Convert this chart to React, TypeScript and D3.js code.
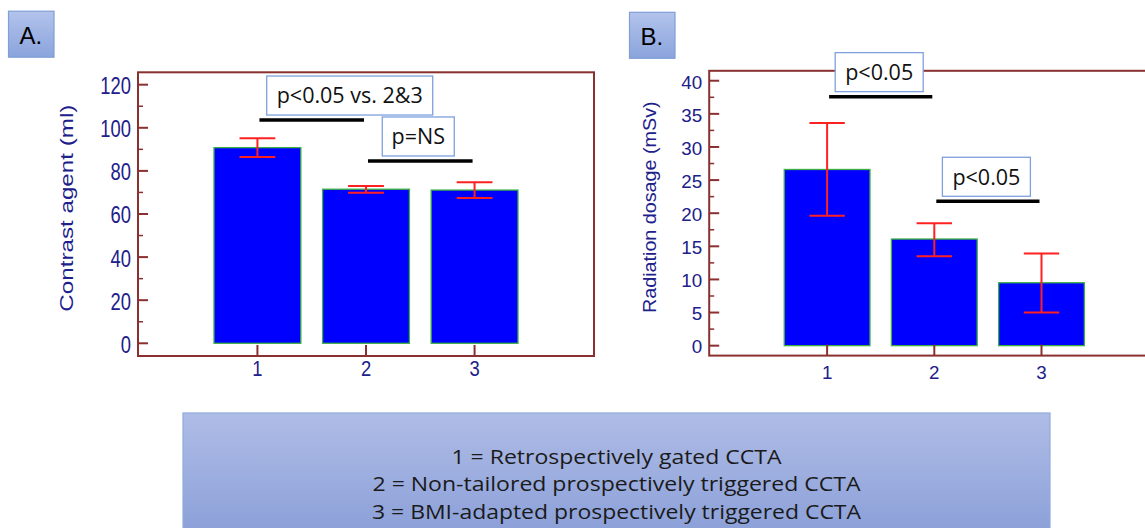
import React from 'react';
import * as d3 from 'd3';

// ---------- data ----------
const categories = [1, 2, 3];
const contrastMean = [90.8, 71.5, 71.1];
const contrastLow = [86.4, 69.9, 67.4];
const contrastHigh = [95.1, 73.0, 74.7];
const contrastMajorTicks = [0, 20, 40, 60, 80, 100, 120];
const contrastMinorTicks = [10, 30, 50, 70, 90, 110];

const radiationMean = [26.6, 16.1, 9.5];
const radiationLow = [19.6, 13.5, 5.0];
const radiationHigh = [33.6, 18.5, 13.9];
const radiationMajorTicks = [0, 5, 10, 15, 20, 25, 30, 35, 40];
const radiationMinorTicks = [2.5, 7.5, 12.5, 17.5, 22.5, 27.5, 32.5, 37.5];

const contrastSigFrom = [1, 2];
const contrastSigTo = [2, 3];
const contrastSigLevel = [103.6, 84.6];
const contrastSigLabel = ['p<0.05 vs. 2&3', 'p=NS'];

const radiationSigFrom = [1, 2];
const radiationSigTo = [2, 3];
const radiationSigLevel = [37.6, 21.8];
const radiationSigLabel = ['p<0.05', 'p<0.05'];

const legendLines = [
  '1 = Retrospectively gated CCTA',
  '2 = Non-tailored prospectively triggered CCTA',
  '3 = BMI-adapted prospectively triggered CCTA',
];

// ---------- styles ----------
const FRAME = '#8b3030';
const NAVY = '#20208a';
const BAR = '#0000ff';
const BAR_EDGE = '#3cb043';
const ERR = '#ff2020';
const TICK_FONT = 'Arial, "Liberation Sans", Roboto, sans-serif';
const BOX_FONT = '"Open Sans", "Noto Sans", sans-serif';

type PanelProps = {
  xRange: [number, number];
  yRange: [number, number];
  yDomain: [number, number];
  mean: number[];
  low: number[];
  high: number[];
  major: number[];
  minor: number[];
  sigFrom: number[];
  sigTo: number[];
  sigLevel: number[];
  sigLabel: string[];
  boxW: number[];
  boxDx: number[];
  title: string;
  titleX: number;
  titleLen: number;
  titleSize: number;
  fontSize: number;
  stretch: number;
  xLabelBaseline: number;
  xLabelStretch: number;
};

function Panel(p: PanelProps) {
  const x = d3.scaleLinear().domain([-0.1, 4.1]).range(p.xRange);
  const y = d3.scaleLinear().domain(p.yDomain).range(p.yRange);
  const step = x(2) - x(1);
  const bw = step * 0.8;
  const cap = step * 0.33;
  const [x0, x1] = p.xRange;
  const [yb, yt] = p.yRange;
  const titleY = (yb + yt) / 2 - 6;
  return (
    <g>
      {categories.map((c, i) => (
        <rect
          key={'b' + i}
          x={x(c) - bw / 2}
          y={y(p.mean[i])}
          width={bw}
          height={y(0) - y(p.mean[i])}
          fill={BAR}
          stroke={BAR_EDGE}
          strokeWidth={1.3}
        />
      ))}
      {categories.map((c, i) => (
        <g key={'e' + i} stroke={ERR} strokeWidth={2}>
          <line x1={x(c)} x2={x(c)} y1={y(p.high[i])} y2={y(p.low[i])} />
          <line x1={x(c) - cap / 2} x2={x(c) + cap / 2} y1={y(p.high[i])} y2={y(p.high[i])} />
          <line x1={x(c) - cap / 2} x2={x(c) + cap / 2} y1={y(p.low[i])} y2={y(p.low[i])} />
        </g>
      ))}
      <rect x={x0} y={yt} width={x1 - x0} height={yb - yt} fill="none" stroke={FRAME} strokeWidth={2} />
      {p.major.map((t) => (
        <line key={'M' + t} x1={x0} x2={x0 + 10} y1={y(t)} y2={y(t)} stroke={FRAME} strokeWidth={2} />
      ))}
      {p.minor.map((t) => (
        <line key={'m' + t} x1={x0} x2={x0 + 5} y1={y(t)} y2={y(t)} stroke={FRAME} strokeWidth={1.5} />
      ))}
      {p.major.map((t) => (
        <text
          key={'L' + t}
          transform={`translate(${x0 - 7},${y(t) + 1}) scale(1,${p.stretch})`}
          textAnchor="end"
          dy="0.36em"
          fontSize={p.fontSize}
          fontFamily={TICK_FONT}
          fill={NAVY}
        >
          {t}
        </text>
      ))}
      {categories.map((c) => (
        <g key={'x' + c}>
          <line x1={x(c)} x2={x(c)} y1={yb} y2={yb - 11} stroke={FRAME} strokeWidth={2} />
          <text
            transform={`translate(${x(c)},${p.xLabelBaseline}) scale(1,${p.xLabelStretch})`}
            textAnchor="middle"
            fontSize={p.fontSize}
            fontFamily={TICK_FONT}
            fill={NAVY}
          >
            {c}
          </text>
        </g>
      ))}
      <text
        transform={`translate(${p.titleX},${titleY}) rotate(-90)`}
        textAnchor="middle"
        fontSize={p.titleSize}
        fontFamily={TICK_FONT}
        fill={NAVY}
        textLength={p.titleLen}
        lengthAdjust="spacingAndGlyphs"
      >
        {p.title}
      </text>
      {p.sigFrom.map((f, i) => {
        const lx1 = x(f) + 2;
        const lx2 = x(p.sigTo[i]) - 2;
        const ly = y(p.sigLevel[i]);
        const cx = (lx1 + lx2) / 2 + p.boxDx[i];
        const bh = 39;
        const by = ly - 5 - bh;
        return (
          <g key={'s' + i}>
            <line x1={lx1} x2={lx2} y1={ly} y2={ly} stroke="#000" strokeWidth={3.5} />
            <rect x={cx - p.boxW[i] / 2} y={by} width={p.boxW[i]} height={bh} fill="#fff" stroke="#7fa0dc" strokeWidth={1.3} />
            <text x={cx} y={by + bh / 2} dy="0.36em" textAnchor="middle" fontSize={21.5} fontFamily={BOX_FONT} fill="#111">
              {p.sigLabel[i]}
            </text>
          </g>
        );
      })}
    </g>
  );
}

function PanelLabel({ x, y, label }: { x: number; y: number; label: string }) {
  return (
    <g>
      <rect x={x} y={y} width={45.5} height={46} fill="url(#lblGrad)" stroke="#7f9fd6" strokeWidth={1.2} />
      <text x={x + 11} y={y + 32.5} fontSize={24} fontFamily={TICK_FONT} fill="#000">
        {label}
      </text>
    </g>
  );
}

export default function App() {
  return (
    <svg
      width={1145}
      height={528}
      viewBox="0 0 1145 528"
      style={{ position: 'absolute', left: 0, top: 0, display: 'block', background: '#fff' }}
    >
      <defs>
        <linearGradient id="lblGrad" x1="0" y1="0" x2="0" y2="1">
          <stop offset="0" stopColor="#b3c3ec" />
          <stop offset="1" stopColor="#8aa4dc" />
        </linearGradient>
        <linearGradient id="legGrad" x1="0" y1="0" x2="0" y2="1">
          <stop offset="0" stopColor="#afbce6" />
          <stop offset="1" stopColor="#8a9fd8" />
        </linearGradient>
      </defs>
      <rect x={0} y={0} width={1145} height={528} fill="#fff" />

      <PanelLabel x={8.5} y={11.2} label="A." />
      <PanelLabel x={629.5} y={12.3} label="B." />

      <Panel
        xRange={[138, 594]}
        yRange={[356, 72.3]}
        yDomain={[-5.9, 125.75]}
        mean={contrastMean}
        low={contrastLow}
        high={contrastHigh}
        major={contrastMajorTicks}
        minor={contrastMinorTicks}
        sigFrom={contrastSigFrom}
        sigTo={contrastSigTo}
        sigLevel={contrastSigLevel}
        sigLabel={contrastSigLabel}
        boxW={[166, 72]}
        boxDx={[38, -2]}
        title="Contrast agent (ml)"
        titleX={72.5}
        titleLen={207}
        titleSize={19}
        fontSize={18.4}
        stretch={1.27}
        xLabelBaseline={376}
        xLabelStretch={1.2}
      />
      <Panel
        xRange={[709.2, 1159.4]}
        yRange={[355.6, 70.8]}
        yDomain={[-1.5, 41.5]}
        mean={radiationMean}
        low={radiationLow}
        high={radiationHigh}
        major={radiationMajorTicks}
        minor={radiationMinorTicks}
        sigFrom={radiationSigFrom}
        sigTo={radiationSigTo}
        sigLevel={radiationSigLevel}
        sigLabel={radiationSigLabel}
        boxW={[88, 88]}
        boxDx={[-1.5, -1.5]}
        title="Radiation dosage (mSv)"
        titleX={656}
        titleLen={211.6}
        titleSize={18}
        fontSize={18.8}
        stretch={1}
        xLabelBaseline={379}
        xLabelStretch={1}
      />

      <rect x={183} y={413} width={867} height={125} fill="url(#legGrad)" stroke="#8faadc" strokeWidth={1.2} />
      {legendLines.map((l, i) => (
        <text
          key={'lg' + i}
          x={616.5}
          y={464 + i * 27.4}
          textAnchor="middle"
          fontSize={19.5}
          fontFamily={BOX_FONT}
          fill="#1a1a1a"
          textLength={[330, 488, 489][i]}
          lengthAdjust="spacingAndGlyphs"
        >
          {l}
        </text>
      ))}
    </svg>
  );
}
